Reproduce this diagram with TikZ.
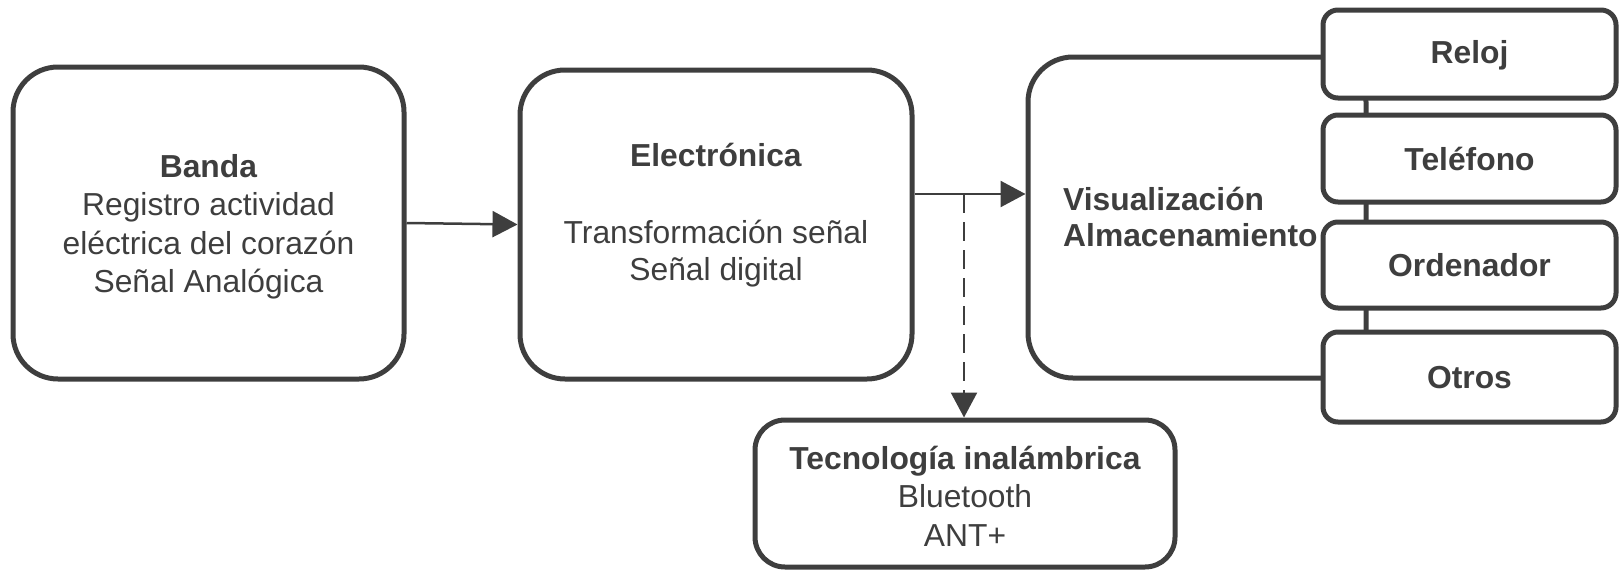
\documentclass[tikz,border=0pt]{standalone}
\usepackage{fontspec}
\setmainfont{Liberation Sans}
\usetikzlibrary{arrows.meta}
\definecolor{ink}{RGB}{62,62,62}
\begin{document}
\begin{tikzpicture}[x=1pt,y=-1pt,
  font=\fontsize{31.8}{38.5}\selectfont, text=ink,
  box/.style={draw=ink, line width=5pt, rounded corners=45pt, inner sep=0pt},
  smallbox/.style={draw=ink, fill=white, line width=5pt, rounded corners=15pt,
    minimum width=293pt, inner sep=0pt, text height=23pt, text depth=0pt,
    font=\fontsize{31.8}{38.5}\selectfont\bfseries},
  txt/.style={align=center, inner sep=0pt},
  arr/.style={draw=ink, line width=2.5pt, -{Triangle[length=25pt,width=26pt]}}]

\useasboundingbox (0,0) rectangle (1619,570);

% main boxes
\node[box, minimum width=391pt, minimum height=312pt] (banda) at (208.5,223) {};
\node[txt] (bandat) at (208.5,227)
  {\textbf{Banda}\\Registro actividad\\eléctrica del corazón\\Señal Analógica};

\node[box, minimum width=392pt, minimum height=309pt] (elec) at (716,224.5) {};
\node[txt] (elect) at (716,215)
  {\textbf{Electrónica}\\[39pt]Transformación señal\\[-1.5pt]Señal digital};

\node[box, minimum width=338pt, minimum height=321pt] (vis) at (1197,217.5) {};

% output devices
\node[smallbox, minimum height=88pt, text height=19pt] (reloj) at (1469.5,54) {Reloj};
\node[smallbox, minimum height=87pt] (tel) at (1469.5,158.5) {Teléfono};
\node[smallbox, minimum height=86pt] (ord) at (1469.5,265) {Ordenador};
\node[smallbox, minimum height=90pt] (otros) at (1469.5,377) {Otros};

\node[txt, anchor=west, align=left, font=\fontsize{31.8}{36.5}\selectfont\bfseries] (vist) at (1063,217)
  {Visualización\\Almacenamiento};

% wireless box
\node[box, rounded corners=30pt, minimum width=420pt, minimum height=147pt] (tec) at (965,493.5) {};
\node[txt] (tect) at (965,496)
  {\textbf{Tecnología inalámbrica}\\Bluetooth\\ANT+};

% connectors
\draw[arr] (banda.east) -- (elec.west);
\coordinate (split) at (964,194);
\draw[arr] (split -| elec.east) -- (split -| vis.west);
\draw[arr, dash pattern=on 19pt off 9pt] (split) -- (split |- tec.north);
\end{tikzpicture}
\end{document}
